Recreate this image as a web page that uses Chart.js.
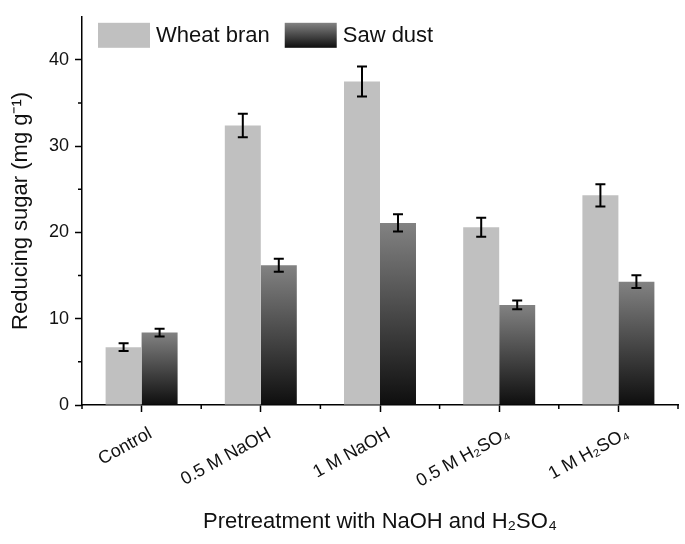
<!DOCTYPE html>
<html>
<head>
<meta charset="utf-8">
<script src="https://cdn.jsdelivr.net/npm/chart.js@4.4.1/dist/chart.umd.min.js"></script>
<style>
  html, body { margin: 0; padding: 0; background: #ffffff; }
  #wrap { position: relative; width: 685px; height: 544px; }
</style>
</head>
<body>
<div id="wrap"><canvas id="c" width="685" height="544"></canvas></div>
<script>
const categories = ['Control', '0.5 M NaOH', '1 M NaOH', '0.5 M H\u2082SO\u2084', '1 M H\u2082SO\u2084'];
const wheatBran = [6.7, 32.4, 37.5, 20.6, 24.3];
const wheatBranErr = [0.45, 1.35, 1.75, 1.1, 1.3];
const sawDust = [8.4, 16.2, 21.1, 11.6, 14.3];
const sawDustErr = [0.45, 0.75, 1.0, 0.5, 0.75];
const yTicks = [0, 10, 20, 30, 40];
const yMinorTicks = [5, 15, 25, 35];
const seriesNames = ['Wheat bran', 'Saw dust'];

const FONT = "'Liberation Sans', Arial, sans-serif";
const WHEAT_COLOR = '#c0c0c0';

function sawGradient(c, top, bottom) {
  const g = c.createLinearGradient(0, top, 0, bottom);
  g.addColorStop(0, '#828282');
  g.addColorStop(1, '#0e0e0e');
  return g;
}

const errorBarPlugin = {
  id: 'errorBars',
  afterDatasetsDraw(chart) {
    const c = chart.ctx;
    const y = chart.scales.y;
    const errs = [wheatBranErr, sawDustErr];
    c.save();
    c.strokeStyle = '#000';
    c.lineWidth = 2;
    chart.data.datasets.forEach((ds, di) => {
      const meta = chart.getDatasetMeta(di);
      meta.data.forEach((bar, i) => {
        const v = ds.data[i];
        const e = errs[di][i];
        const yt = y.getPixelForValue(v + e);
        const yb = y.getPixelForValue(v - e);
        const x = bar.x;
        c.beginPath();
        c.moveTo(x, yt); c.lineTo(x, yb);
        c.moveTo(x - 5, yt); c.lineTo(x + 5, yt);
        c.moveTo(x - 5, yb); c.lineTo(x + 5, yb);
        c.stroke();
      });
    });
    c.restore();
  }
};

const minorTickPlugin = {
  id: 'minorTicks',
  afterDraw(chart) {
    const c = chart.ctx;
    const { x, y } = chart.scales;
    const area = chart.chartArea;
    c.save();
    c.strokeStyle = '#000';
    c.lineWidth = 1.5;
    c.beginPath();
    yMinorTicks.forEach(v => {
      const py = y.getPixelForValue(v);
      c.moveTo(area.left - 4, py); c.lineTo(area.left, py);
    });
    for (let i = 0; i <= categories.length; i++) {
      const px = x.getPixelForValue(i - 0.5);
      c.moveTo(px, area.bottom); c.lineTo(px, area.bottom + 4);
    }
    c.stroke();
    c.restore();
  }
};

// Legend drawn inside the plot area, in one row at its top-left corner
const insideLegendPlugin = {
  id: 'insideLegend',
  afterDraw(chart) {
    const c = chart.ctx;
    const area = chart.chartArea;
    const boxW = 52, boxH = 25;
    let x = area.left + 16;
    const top = area.top + 6;
    c.save();
    c.font = '22px ' + FONT;
    c.textBaseline = 'middle';
    c.fillStyle = '#111';
    chart.data.datasets.forEach((ds, i) => {
      c.fillStyle = i === 0 ? WHEAT_COLOR : sawGradient(c, top, top + boxH);
      c.fillRect(x, top, boxW, boxH);
      x += boxW + 6;
      c.fillStyle = '#111';
      c.fillText(ds.label, x, top + boxH / 2 + 1);
      x += c.measureText(ds.label).width + 15;
    });
    c.restore();
  }
};

new Chart(document.getElementById('c'), {
  type: 'bar',
  data: {
    labels: categories,
    datasets: [
      {
        label: seriesNames[0],
        data: wheatBran,
        backgroundColor: WHEAT_COLOR,
        borderWidth: 0
      },
      {
        label: seriesNames[1],
        data: sawDust,
        borderWidth: 0,
        backgroundColor: (ctx) => {
          const chart = ctx.chart;
          if (!chart.chartArea || ctx.type !== 'data') return '#444';
          const y = chart.scales.y;
          return sawGradient(chart.ctx, y.getPixelForValue(ctx.raw), y.getPixelForValue(0));
        }
      }
    ]
  },
  options: {
    responsive: false,
    animation: false,
    devicePixelRatio: 1,
    layout: { padding: { left: 0, right: 7, top: 12, bottom: 0 } },
    datasets: {
      bar: { categoryPercentage: 0.604, barPercentage: 1.0 }
    },
    plugins: {
      tooltip: { enabled: false },
      legend: { display: false }
    },
    scales: {
      x: {
        offset: true,
        grid: {
          offset: false,
          drawOnChartArea: false,
          drawTicks: true,
          tickLength: 7,
          tickWidth: 1.5,
          tickColor: '#000'
        },
        border: { display: true, color: '#000', width: 1.5 },
        ticks: {
          autoSkip: false,
          minRotation: 29,
          maxRotation: 29,
          padding: 11,
          labelOffset: 9,
          color: '#111',
          font: { family: FONT, size: 18 }
        },
        title: {
          display: true,
          text: 'Pretreatment with NaOH and H\u2082SO\u2084',
          color: '#111',
          font: { family: FONT, size: 22 },
          padding: { top: 0, bottom: 9 }
        },
        afterFit(scale) { scale.height = 139; }
      },
      y: {
        min: 0,
        max: 45,
        afterBuildTicks(scale) { scale.ticks = yTicks.map(v => ({ value: v })); },
        grid: {
          drawOnChartArea: false,
          drawTicks: true,
          tickLength: 7,
          tickWidth: 1.5,
          tickColor: '#000'
        },
        border: { display: true, color: '#000', width: 1.5 },
        ticks: {
          padding: 6,
          color: '#111',
          font: { family: FONT, size: 18 }
        },
        title: {
          display: true,
          text: 'Reducing sugar (mg g\u207B\u00B9)',
          color: '#111',
          font: { family: FONT, size: 22 },
          padding: { top: 8, bottom: 0 }
        },
        afterFit(scale) { scale.width = 82; }
      }
    }
  },
  plugins: [errorBarPlugin, minorTickPlugin, insideLegendPlugin]
});
</script>
</body>
</html>
